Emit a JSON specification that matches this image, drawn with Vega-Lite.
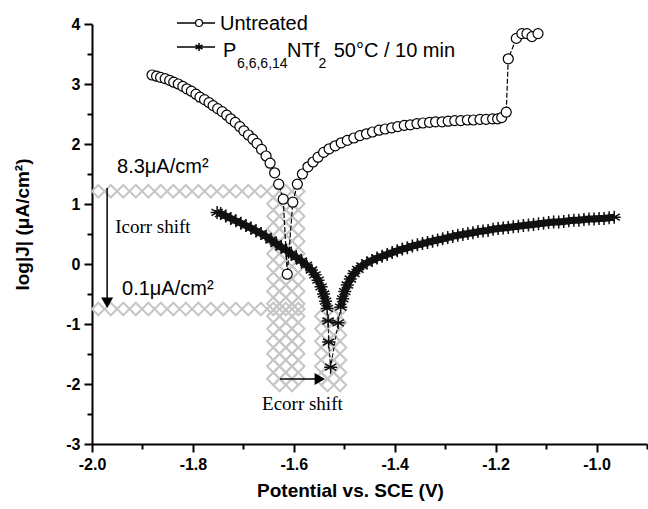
{
  "$schema": "https://vega.github.io/schema/vega-lite/v6.json",
  "width": 555,
  "height": 420,
  "autosize": "none",
  "padding": {"left": 92, "top": 24, "right": 1, "bottom": 65},
  "background": "white",
  "config": {"view": {"stroke": null}, "font": "Liberation Sans"},
  "datasets": {
    "untreated": [
      {"x":-1.881,"y":3.15},{"x":-1.872,"y":3.13},{"x":-1.864,"y":3.11},{"x":-1.855,"y":3.09},{"x":-1.846,"y":3.06},{"x":-1.838,"y":3.03},{"x":-1.829,"y":3.0},{"x":-1.82,"y":2.96},{"x":-1.812,"y":2.92},{"x":-1.803,"y":2.88},{"x":-1.794,"y":2.83},{"x":-1.786,"y":2.78},{"x":-1.777,"y":2.74},{"x":-1.768,"y":2.69},{"x":-1.76,"y":2.64},{"x":-1.751,"y":2.59},{"x":-1.742,"y":2.54},{"x":-1.733,"y":2.48},{"x":-1.725,"y":2.42},{"x":-1.716,"y":2.36},{"x":-1.707,"y":2.29},{"x":-1.699,"y":2.22},{"x":-1.69,"y":2.15},{"x":-1.681,"y":2.08},{"x":-1.673,"y":2.01},{"x":-1.664,"y":1.91},{"x":-1.655,"y":1.8},{"x":-1.647,"y":1.68},{"x":-1.638,"y":1.52},{"x":-1.63,"y":1.33},{"x":-1.621,"y":1.08},{"x":-1.613,"y":-0.17},{"x":-1.602,"y":1.03},{"x":-1.593,"y":1.33},{"x":-1.583,"y":1.5},{"x":-1.572,"y":1.62},{"x":-1.562,"y":1.7},{"x":-1.552,"y":1.78},{"x":-1.541,"y":1.86},{"x":-1.53,"y":1.92},{"x":-1.518,"y":1.97},{"x":-1.506,"y":2.02},{"x":-1.494,"y":2.06},{"x":-1.481,"y":2.1},{"x":-1.469,"y":2.14},{"x":-1.456,"y":2.17},{"x":-1.444,"y":2.2},{"x":-1.431,"y":2.23},{"x":-1.419,"y":2.25},{"x":-1.406,"y":2.27},{"x":-1.394,"y":2.29},{"x":-1.381,"y":2.31},{"x":-1.369,"y":2.32},{"x":-1.356,"y":2.34},{"x":-1.344,"y":2.35},{"x":-1.331,"y":2.36},{"x":-1.319,"y":2.37},{"x":-1.306,"y":2.37},{"x":-1.294,"y":2.38},{"x":-1.281,"y":2.39},{"x":-1.269,"y":2.39},{"x":-1.256,"y":2.4},{"x":-1.244,"y":2.4},{"x":-1.231,"y":2.41},{"x":-1.219,"y":2.41},{"x":-1.206,"y":2.42},{"x":-1.196,"y":2.42},{"x":-1.188,"y":2.44},{"x":-1.179,"y":2.53},{"x":-1.175,"y":3.42},{"x":-1.159,"y":3.76},{"x":-1.148,"y":3.84},{"x":-1.138,"y":3.84},{"x":-1.128,"y":3.79},{"x":-1.116,"y":3.84}
    ],
    "treated": [
      {"x":-1.752,"y":0.86,"s":"a"},{"x":-1.745,"y":0.84,"s":"a"},{"x":-1.735,"y":0.8,"s":"a"},{"x":-1.725,"y":0.76,"s":"a"},{"x":-1.715,"y":0.72,"s":"a"},{"x":-1.705,"y":0.68,"s":"a"},{"x":-1.695,"y":0.64,"s":"a"},{"x":-1.685,"y":0.6,"s":"a"},{"x":-1.675,"y":0.55,"s":"a"},{"x":-1.665,"y":0.51,"s":"a"},{"x":-1.655,"y":0.46,"s":"a"},{"x":-1.645,"y":0.4,"s":"a"},{"x":-1.635,"y":0.34,"s":"a"},{"x":-1.625,"y":0.28,"s":"a"},{"x":-1.615,"y":0.23,"s":"a"},{"x":-1.605,"y":0.17,"s":"a"},{"x":-1.595,"y":0.11,"s":"a"},{"x":-1.585,"y":0.05,"s":"a"},{"x":-1.575,"y":-0.02,"s":"a"},{"x":-1.565,"y":-0.1,"s":"a"},{"x":-1.558,"y":-0.18,"s":"a"},{"x":-1.552,"y":-0.27,"s":"a"},{"x":-1.546,"y":-0.38,"s":"a"},{"x":-1.541,"y":-0.5,"s":"a"},{"x":-1.537,"y":-0.62,"s":"a"},{"x":-1.534,"y":-0.74,"s":"a"},
      {"x":-1.532,"y":-0.95,"s":"m"},{"x":-1.531,"y":-1.3,"s":"m"},{"x":-1.527,"y":-1.72,"s":"m"},{"x":-1.512,"y":-0.98,"s":"m"},
      {"x":-1.507,"y":-0.72,"s":"c"},{"x":-1.503,"y":-0.58,"s":"c"},{"x":-1.499,"y":-0.46,"s":"c"},{"x":-1.494,"y":-0.35,"s":"c"},{"x":-1.488,"y":-0.25,"s":"c"},{"x":-1.481,"y":-0.16,"s":"c"},{"x":-1.473,"y":-0.09,"s":"c"},{"x":-1.465,"y":-0.03,"s":"c"},{"x":-1.455,"y":0.02,"s":"c"},{"x":-1.445,"y":0.06,"s":"c"},{"x":-1.435,"y":0.1,"s":"c"},{"x":-1.425,"y":0.13,"s":"c"},{"x":-1.415,"y":0.16,"s":"c"},{"x":-1.405,"y":0.19,"s":"c"},{"x":-1.395,"y":0.22,"s":"c"},{"x":-1.385,"y":0.25,"s":"c"},{"x":-1.375,"y":0.27,"s":"c"},{"x":-1.365,"y":0.3,"s":"c"},{"x":-1.355,"y":0.32,"s":"c"},{"x":-1.345,"y":0.34,"s":"c"},{"x":-1.335,"y":0.36,"s":"c"},{"x":-1.325,"y":0.38,"s":"c"},{"x":-1.315,"y":0.4,"s":"c"},{"x":-1.305,"y":0.42,"s":"c"},{"x":-1.295,"y":0.44,"s":"c"},{"x":-1.285,"y":0.46,"s":"c"},{"x":-1.275,"y":0.48,"s":"c"},{"x":-1.265,"y":0.49,"s":"c"},{"x":-1.255,"y":0.51,"s":"c"},{"x":-1.245,"y":0.52,"s":"c"},{"x":-1.235,"y":0.54,"s":"c"},{"x":-1.225,"y":0.55,"s":"c"},{"x":-1.215,"y":0.56,"s":"c"},{"x":-1.205,"y":0.58,"s":"c"},{"x":-1.195,"y":0.59,"s":"c"},{"x":-1.185,"y":0.6,"s":"c"},{"x":-1.175,"y":0.61,"s":"c"},{"x":-1.165,"y":0.62,"s":"c"},{"x":-1.155,"y":0.63,"s":"c"},{"x":-1.145,"y":0.64,"s":"c"},{"x":-1.135,"y":0.65,"s":"c"},{"x":-1.125,"y":0.66,"s":"c"},{"x":-1.115,"y":0.67,"s":"c"},{"x":-1.105,"y":0.68,"s":"c"},{"x":-1.095,"y":0.69,"s":"c"},{"x":-1.085,"y":0.7,"s":"c"},{"x":-1.075,"y":0.7,"s":"c"},{"x":-1.065,"y":0.71,"s":"c"},{"x":-1.055,"y":0.72,"s":"c"},{"x":-1.045,"y":0.73,"s":"c"},{"x":-1.035,"y":0.73,"s":"c"},{"x":-1.025,"y":0.74,"s":"c"},{"x":-1.015,"y":0.75,"s":"c"},{"x":-1.005,"y":0.75,"s":"c"},{"x":-0.995,"y":0.76,"s":"c"},{"x":-0.985,"y":0.76,"s":"c"},{"x":-0.975,"y":0.77,"s":"c"},{"x":-0.965,"y":0.78,"s":"c"}
    ],
    "hatch": [
      {"x":-1.9875,"y":1.2125},{"x":-1.9627,"y":1.2125},{"x":-1.938,"y":1.2125},{"x":-1.9132,"y":1.2125},{"x":-1.8884,"y":1.2125},{"x":-1.8636,"y":1.2125},{"x":-1.8388,"y":1.2125},{"x":-1.8141,"y":1.2125},{"x":-1.7893,"y":1.2125},{"x":-1.7645,"y":1.2125},{"x":-1.7397,"y":1.2125},{"x":-1.715,"y":1.2125},{"x":-1.6902,"y":1.2125},{"x":-1.6654,"y":1.2125},
      {"x":-1.9875,"y":-0.75},{"x":-1.9627,"y":-0.75},{"x":-1.938,"y":-0.75},{"x":-1.9132,"y":-0.75},{"x":-1.8884,"y":-0.75},{"x":-1.8636,"y":-0.75},{"x":-1.8388,"y":-0.75},{"x":-1.8141,"y":-0.75},{"x":-1.7893,"y":-0.75},{"x":-1.7645,"y":-0.75},{"x":-1.7397,"y":-0.75},{"x":-1.715,"y":-0.75},{"x":-1.6902,"y":-0.75},{"x":-1.6654,"y":-0.75},{"x":-1.6406,"y":-0.75},{"x":-1.6159,"y":-0.75},{"x":-1.5911,"y":-0.75},
      {"x":-1.6406,"y":1.2125},{"x":-1.6159,"y":1.2125},{"x":-1.5911,"y":1.2125},
      {"x":-1.6406,"y":1.0042},{"x":-1.6159,"y":1.0042},{"x":-1.5911,"y":1.0042},
      {"x":-1.6406,"y":0.7958},{"x":-1.6159,"y":0.7958},{"x":-1.5911,"y":0.7958},
      {"x":-1.6406,"y":0.5875},{"x":-1.6159,"y":0.5875},{"x":-1.5911,"y":0.5875},
      {"x":-1.6406,"y":0.3792},{"x":-1.6159,"y":0.3792},{"x":-1.5911,"y":0.3792},
      {"x":-1.6406,"y":0.1708},{"x":-1.6159,"y":0.1708},{"x":-1.5911,"y":0.1708},
      {"x":-1.6406,"y":-0.0375},{"x":-1.6159,"y":-0.0375},{"x":-1.5911,"y":-0.0375},
      {"x":-1.6406,"y":-0.2458},{"x":-1.6159,"y":-0.2458},{"x":-1.5911,"y":-0.2458},
      {"x":-1.6406,"y":-0.4542},{"x":-1.6159,"y":-0.4542},{"x":-1.5911,"y":-0.4542},
      {"x":-1.6406,"y":-0.6625},{"x":-1.6159,"y":-0.6625},{"x":-1.5911,"y":-0.6625},
      {"x":-1.6406,"y":-0.8708},{"x":-1.6159,"y":-0.8708},{"x":-1.5911,"y":-0.8708},
      {"x":-1.6406,"y":-1.0792},{"x":-1.6159,"y":-1.0792},{"x":-1.5911,"y":-1.0792},
      {"x":-1.6406,"y":-1.2875},{"x":-1.6159,"y":-1.2875},{"x":-1.5911,"y":-1.2875},
      {"x":-1.6406,"y":-1.4958},{"x":-1.6159,"y":-1.4958},{"x":-1.5911,"y":-1.4958},
      {"x":-1.6406,"y":-1.7042},{"x":-1.6159,"y":-1.7042},{"x":-1.5911,"y":-1.7042},
      {"x":-1.6406,"y":-1.9125},{"x":-1.6159,"y":-1.9125},{"x":-1.5911,"y":-1.9125},
      {"x":-1.6283,"y":1.1083},{"x":-1.6036,"y":1.1083},
      {"x":-1.6283,"y":0.9},{"x":-1.6036,"y":0.9},
      {"x":-1.6283,"y":0.6917},{"x":-1.6036,"y":0.6917},
      {"x":-1.6283,"y":0.4833},{"x":-1.6036,"y":0.4833},
      {"x":-1.6283,"y":0.275},{"x":-1.6036,"y":0.275},
      {"x":-1.6283,"y":0.0667},{"x":-1.6036,"y":0.0667},
      {"x":-1.6283,"y":-0.1417},{"x":-1.6036,"y":-0.1417},
      {"x":-1.6283,"y":-0.35},{"x":-1.6036,"y":-0.35},
      {"x":-1.6283,"y":-0.5583},{"x":-1.6036,"y":-0.5583},
      {"x":-1.6283,"y":-0.7667},{"x":-1.6036,"y":-0.7667},
      {"x":-1.6283,"y":-0.975},{"x":-1.6036,"y":-0.975},
      {"x":-1.6283,"y":-1.1833},{"x":-1.6036,"y":-1.1833},
      {"x":-1.6283,"y":-1.3917},{"x":-1.6036,"y":-1.3917},
      {"x":-1.6283,"y":-1.6},{"x":-1.6036,"y":-1.6},
      {"x":-1.6283,"y":-1.8083},{"x":-1.6036,"y":-1.8083},
      {"x":-1.6283,"y":-2.0167},{"x":-1.6036,"y":-2.0167},
      {"x":-1.5456,"y":-0.8708},{"x":-1.5208,"y":-0.8708},
      {"x":-1.5456,"y":-1.0792},{"x":-1.5208,"y":-1.0792},
      {"x":-1.5456,"y":-1.2875},{"x":-1.5208,"y":-1.2875},
      {"x":-1.5456,"y":-1.4958},{"x":-1.5208,"y":-1.4958},
      {"x":-1.5456,"y":-1.7042},{"x":-1.5208,"y":-1.7042},
      {"x":-1.5456,"y":-1.9125},{"x":-1.5208,"y":-1.9125},
      {"x":-1.5332,"y":-0.7667},{"x":-1.5084,"y":-0.7667},
      {"x":-1.5332,"y":-0.975},{"x":-1.5084,"y":-0.975},
      {"x":-1.5332,"y":-1.1833},{"x":-1.5084,"y":-1.1833},
      {"x":-1.5332,"y":-1.3917},{"x":-1.5084,"y":-1.3917},
      {"x":-1.5332,"y":-1.6},{"x":-1.5084,"y":-1.6},
      {"x":-1.5332,"y":-1.8083},{"x":-1.5084,"y":-1.8083},
      {"x":-1.5332,"y":-2.0167},{"x":-1.5084,"y":-2.0167}
    ]
  },
  "encoding": {
    "x": {
      "field": "x", "type": "quantitative",
      "scale": {"domain": [-2.0, -0.9], "nice": false, "zero": false},
      "axis": {
        "title": "Potential vs. SCE (V)",
        "values": [-2.0,-1.9,-1.8,-1.7,-1.6,-1.5,-1.4,-1.3,-1.2,-1.1,-1.0,-0.9],
        "labelExpr": "abs(round(datum.value*10)) % 2 == 0 ? (datum.value < 0 ? '-' : '') + format(abs(datum.value), '.1f') : ''",
        "tickSize": {"condition": {"test": "abs(round(datum.value*10)) % 2 == 1", "value": 5}, "value": 8},
        "grid": false,
        "domainColor": "black", "domainWidth": 2,
        "tickColor": "black", "tickWidth": 2,
        "labelFont": "Liberation Sans", "labelFontSize": 16, "labelFontWeight": "bold", "labelColor": "black",
        "labelPadding": 4, "labelFlush": false, "labelOverlap": false,
        "titleFont": "Liberation Sans", "titleFontSize": 19, "titleFontWeight": "bold", "titleColor": "black",
        "titleX": 258, "titleY": 52, "titleBaseline": "alphabetic", "titleAlign": "center"
      }
    },
    "y": {
      "field": "y", "type": "quantitative",
      "scale": {"domain": [-3, 4], "nice": false, "zero": false},
      "axis": {
        "title": "log|J| (μA/cm²)",
        "values": [-3,-2.5,-2,-1.5,-1,-0.5,0,0.5,1,1.5,2,2.5,3,3.5,4],
        "labelExpr": "datum.value % 1 == 0 ? (datum.value < 0 ? '-' : '') + format(abs(datum.value), 'd') : ''",
        "tickSize": {"condition": {"test": "datum.value % 1 != 0", "value": 5}, "value": 8},
        "grid": false,
        "domainColor": "black", "domainWidth": 2,
        "tickColor": "black", "tickWidth": 2,
        "labelFont": "Liberation Sans", "labelFontSize": 16, "labelFontWeight": "bold", "labelColor": "black",
        "labelPadding": 4, "labelOverlap": false,
        "titleFont": "Liberation Sans", "titleFontSize": 19, "titleFontWeight": "bold", "titleColor": "black",
        "titleX": -64, "titleY": 200, "titleAngle": -90, "titleBaseline": "alphabetic", "titleAlign": "center"
      }
    }
  },
  "layer": [
    {
      "data": {"name": "hatch"},
      "mark": {"type": "point", "shape": "diamond", "filled": false, "size": 156, "stroke": "#c6c6c6", "strokeWidth": 2, "opacity": 1}
    },
    {
      "data": {"name": "treated"},
      "mark": {"type": "line", "color": "black", "strokeWidth": 1, "strokeDash": [4, 2]}
    },
    {
      "data": {"name": "treated"},
      "transform": [{"filter": "datum.s != 'm'"}],
      "mark": {"type": "line", "color": "#141414", "strokeWidth": 7},
      "encoding": {"detail": {"field": "s"}}
    },
    {
      "data": {"name": "treated"},
      "mark": {"type": "point", "shape": "M0,-1L0,1M-0.87,-0.5L0.87,0.5M-0.87,0.5L0.87,-0.5M-1,0L1,0", "filled": false, "size": 169, "stroke": "#111111", "strokeWidth": 1.5, "opacity": 1}
    },
    {
      "data": {"name": "untreated"},
      "mark": {"type": "line", "color": "black", "strokeWidth": 1.2, "strokeDash": [5, 2]}
    },
    {
      "data": {"name": "untreated"},
      "mark": {"type": "point", "shape": "circle", "filled": true, "fill": "white", "stroke": "black", "strokeWidth": 1.2, "size": 100, "opacity": 1}
    },
    {
      "data": {"values": [
        {"x": -1.970, "y": 1.267, "x2": -1.970, "y2": -0.647},
        {"x": -1.6274, "y": -1.917, "x2": -1.5485, "y2": -1.917},
        {"x": -1.8315, "y": 4.0167, "x2": -1.7562, "y2": 4.0167},
        {"x": -1.8315, "y": 3.6167, "x2": -1.7562, "y2": 3.6167}
      ]},
      "mark": {"type": "rule", "color": "black", "strokeWidth": 1.5},
      "encoding": {"x2": {"field": "x2"}, "y2": {"field": "y2"}}
    },
    {
      "data": {"values": [{"x": -1.970, "y": -0.647}]},
      "mark": {"type": "point", "shape": "triangle-down", "filled": true, "color": "black", "size": 144, "opacity": 1}
    },
    {
      "data": {"values": [{"x": -1.5485, "y": -1.917}]},
      "mark": {"type": "point", "shape": "triangle-right", "filled": true, "color": "black", "size": 144, "opacity": 1}
    },
    {
      "data": {"values": [{"x": -1.7879, "y": 4.0167}]},
      "mark": {"type": "point", "shape": "circle", "filled": true, "fill": "white", "stroke": "black", "strokeWidth": 1.2, "size": 49, "opacity": 1}
    },
    {
      "data": {"values": [{"x": -1.7879, "y": 3.6167}]},
      "mark": {"type": "point", "shape": "M0,-1L0,1M-0.87,-0.5L0.87,0.5M-0.87,0.5L0.87,-0.5", "filled": false, "stroke": "black", "strokeWidth": 1.5, "size": 64, "opacity": 1}
    },
    {
      "data": {"values": [
        {"x": -1.7463, "y": 3.9, "t": "Untreated"},
        {"x": -1.7403, "y": 3.45, "t": "P"},
        {"x": -1.6135, "y": 3.45, "t": "NTf"},
        {"x": -1.521, "y": 3.45, "t": "50°C / 10 min"},
        {"x": -1.9504, "y": 1.517, "t": "8.3μA/cm²"},
        {"x": -1.9405, "y": -0.517, "t": "0.1μA/cm²"}
      ]},
      "mark": {"type": "text", "align": "left", "baseline": "alphabetic", "font": "Liberation Sans", "fontSize": 20, "color": "black"},
      "encoding": {"text": {"field": "t"}}
    },
    {
      "data": {"values": [
        {"x": -1.7126, "y": 3.2667, "t": "6,6,6,14"},
        {"x": -1.551, "y": 3.2667, "t": "2"}
      ]},
      "mark": {"type": "text", "align": "left", "baseline": "alphabetic", "font": "Liberation Sans", "fontSize": 14, "color": "black"},
      "encoding": {"text": {"field": "t"}}
    },
    {
      "data": {"values": [
        {"x": -1.954, "y": 0.522, "t": "Icorr shift"},
        {"x": -1.663, "y": -2.433, "t": "Ecorr shift"}
      ]},
      "mark": {"type": "text", "align": "left", "baseline": "alphabetic", "font": "Liberation Serif", "fontSize": 19, "color": "black"},
      "encoding": {"text": {"field": "t"}}
    }
  ]
}
